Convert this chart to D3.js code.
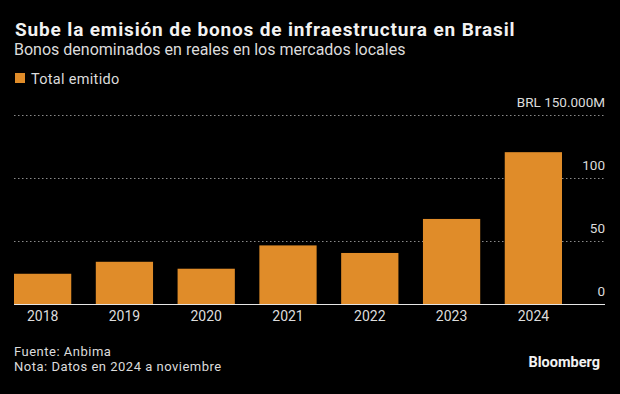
<!DOCTYPE html>
<head>
  <meta charset="utf-8">
  <script src="https://d3js.org/d3.v7.min.js"></script>
  <style>
    body { margin:0; background:#000; }
    text { font-family: Roboto, "DejaVu Sans", sans-serif; }
  </style>
</head>
<body>
  <script>
    var width = 620, height = 394;

    // data, BRL billions
    var years = ["2018", "2019", "2020", "2021", "2022", "2023", "2024"];
    var totals = [24, 33.5, 28, 46.5, 40.5, 67.5, 120.5];
    var yTicks = [0, 50, 100, 150];
    var tickLabels = ["0", "50", "100", "BRL 150.000M"];

    var barColor = "#e08c29";
    var textColor = "#dcdcdc";

    var svg = d3.select("body").append("svg")
      .attr("width", width)
      .attr("height", height)
      .style("background", "#000");

    // header
    svg.append("text").attr("x", 15).attr("y", 36)
      .attr("fill", "#f2f2f2").style("font-size", "19px").style("font-weight", "bold")
      .style("letter-spacing", "0.85px")
      .text("Sube la emisión de bonos de infraestructura en Brasil");
    svg.append("text").attr("x", 14).attr("y", 55)
      .attr("fill", textColor).style("font-size", "16px")
      .text("Bonos denominados en reales en los mercados locales");

    // legend
    svg.append("rect").attr("x", 15).attr("y", 73).attr("width", 10).attr("height", 10)
      .attr("fill", barColor);
    svg.append("text").attr("x", 31).attr("y", 84)
      .attr("fill", textColor).style("font-size", "14.5px").style("letter-spacing", "0.3px")
      .text("Total emitido");

    var x = d3.scaleBand().domain(years).range([14, 562]).paddingInner(0.3).paddingOuter(0);
    var y = d3.scaleLinear().domain([0, 150]).range([304, 115]);

    // gridlines
    svg.selectAll("line.grid").data(yTicks.slice(1)).enter().append("line")
      .attr("class", "grid")
      .attr("x1", 14).attr("x2", 605)
      .attr("y1", function(d) { return y(d) + 0.5; })
      .attr("y2", function(d) { return y(d) + 0.5; })
      .attr("stroke", "#8a8a8a").attr("stroke-width", 1)
      .attr("stroke-dasharray", "1.5,2.5");

    // y labels sit above the gridlines
    svg.selectAll("text.ytick").data(yTicks).enter().append("text")
      .attr("class", "ytick")
      .attr("x", 605)
      .attr("y", function(d) { return y(d) - 8; })
      .attr("text-anchor", "end")
      .attr("fill", textColor).style("font-size", "13.5px")
      .text(function(d, i) { return tickLabels[i]; });

    // bars
    svg.selectAll("rect.bar").data(totals).enter().append("rect")
      .attr("class", "bar")
      .attr("x", function(d, i) { return x(years[i]); })
      .attr("width", x.bandwidth())
      .attr("y", function(d) { return y(d); })
      .attr("height", function(d) { return y(0) - y(d); })
      .attr("fill", barColor);

    // baseline
    svg.append("line").attr("x1", 14).attr("x2", 605)
      .attr("y1", y(0) + 0.5).attr("y2", y(0) + 0.5)
      .attr("stroke", "#e6e6e6").attr("stroke-width", 1);

    // x axis labels
    var xAxis = d3.axisBottom(x).tickSize(0).tickPadding(6);
    var gx = svg.append("g").attr("transform", "translate(0," + (y(0) + 1) + ")").call(xAxis);
    gx.select(".domain").remove();
    gx.selectAll("text").attr("fill", textColor).style("font-size", "14px")
      .style("font-family", "Roboto, sans-serif");

    // footer
    svg.append("text").attr("x", 14).attr("y", 356)
      .attr("fill", textColor).style("font-size", "13px").style("letter-spacing", "0.5px")
      .text("Fuente: Anbima");
    svg.append("text").attr("x", 14).attr("y", 371)
      .attr("fill", textColor).style("font-size", "13px").style("letter-spacing", "0.5px")
      .text("Nota: Datos en 2024 a noviembre");
    svg.append("text").attr("x", 600).attr("y", 367)
      .attr("text-anchor", "end")
      .attr("fill", "#f2f2f2").style("font-size", "14.5px").style("font-weight", "bold")
      .text("Bloomberg");
  </script>
</body>
</html>
